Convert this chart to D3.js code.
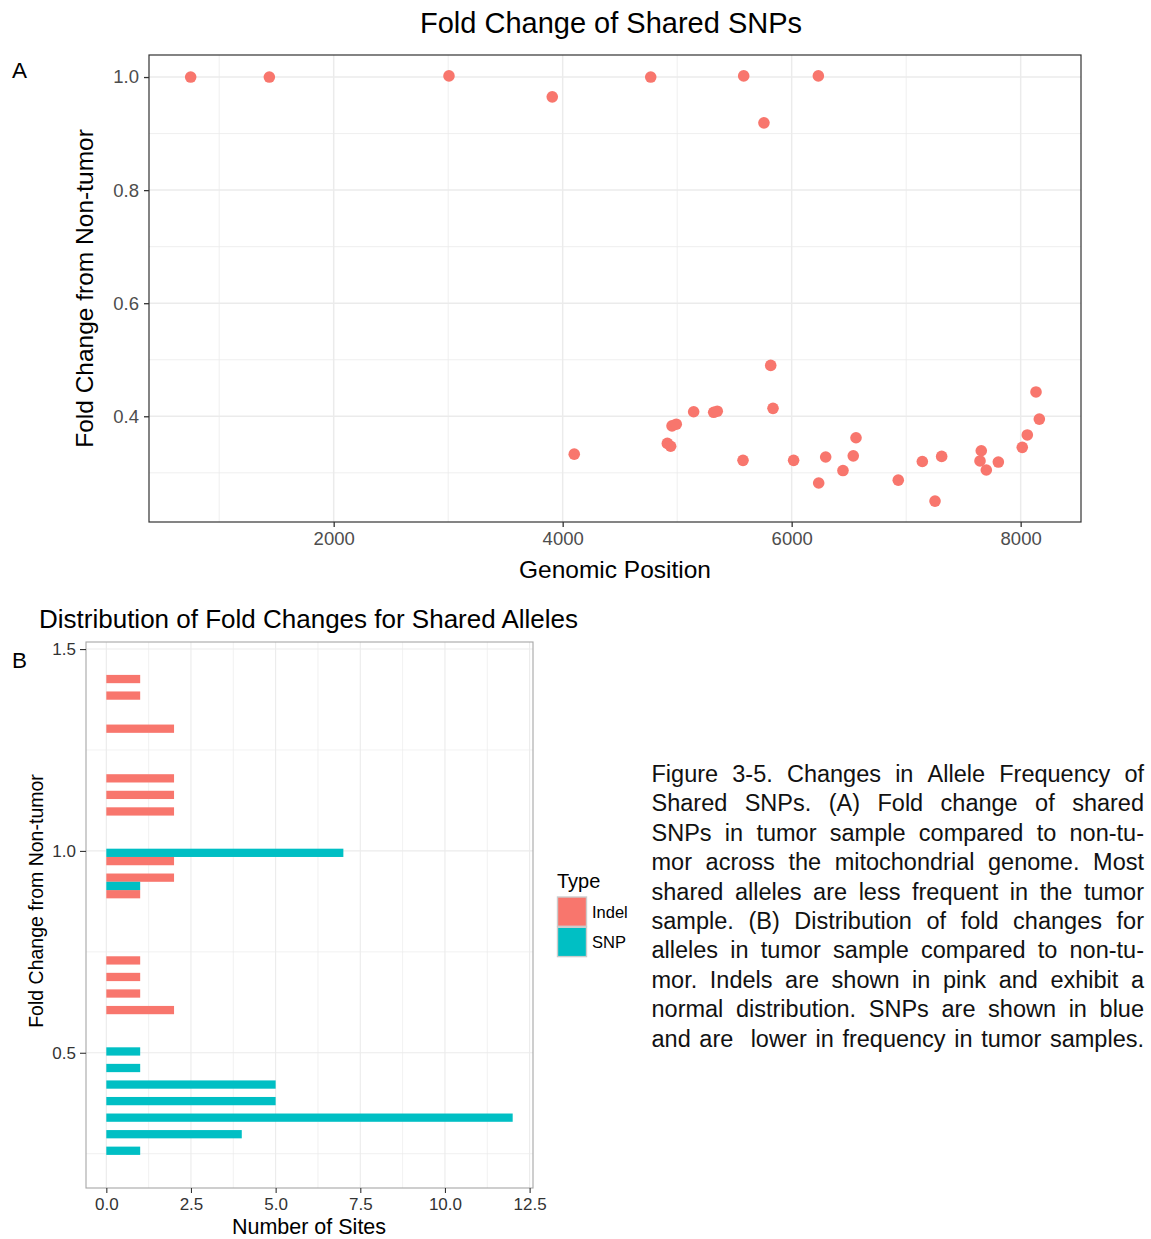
<!DOCTYPE html>
<html><head><meta charset="utf-8">
<script src="https://cdn.jsdelivr.net/npm/d3@7"></script>
<style>
body{margin:0;background:#fff}
text{font-family:"Liberation Sans",Arial,Helvetica,sans-serif}
</style>
</head><body><svg id="c" width="1151" height="1239"></svg>
<script>
// ---------- Panel A data ----------
const positions = [751,1438,3007,3909,4769,5581,6233,5758,
  4101,5817,5837,4914,4943,4955,4992,5144,5319,5350,5575,6017,6236,6297,6448,6538,6562,
  6931,7141,7252,7310,7656,7645,7700,7805,8014,8058,8134,8163];
const foldChanges = [1.000,1.000,1.002,0.965,1.000,1.002,1.002,0.919,
  0.333,0.490,0.414,0.352,0.347,0.383,0.386,0.408,0.407,0.409,0.322,0.322,0.282,0.328,0.304,0.330,0.362,
  0.287,0.320,0.250,0.329,0.339,0.321,0.305,0.319,0.345,0.367,0.443,0.395];
const aXTicks = [2000,4000,6000,8000];
const aXMinor = [1000,3000,5000,7000];
const aYTicks = [0.4,0.6,0.8,1.0];
const aYMinor = [0.3,0.5,0.7,0.9];

// ---------- Panel B data ----------
const binCenters = [1.436,1.395,1.354,1.313,1.272,1.231,1.190,1.149,1.108,1.067,1.026,0.985,0.944,0.903,0.862,
  0.821,0.780,0.739,0.698,0.657,0.616,0.575,0.534,0.493,0.452,0.411,0.370,0.329,0.288,0.247];
const binWidth = 0.041;
const types = ["Indel","SNP"];
const indelCounts = [1,1,0,2,0,0,2,2,2,0,0,2,2,1,0,0,0,1,1,1,2,0,0,0,0,0,0,0,0,0];
const snpCounts   = [0,0,0,0,0,0,0,0,0,0,0,7,0,1,0,0,0,0,0,0,0,0,0,1,1,5,5,12,4,1];
const bXTicks = [0,2.5,5,7.5,10,12.5];
const bXMinor = [1.25,3.75,6.25,8.75,11.25];
const bYTicks = [0.5,1.0,1.5];
const bYMinor = [0.25,0.75,1.25];

const captionLines = [
  "Figure 3-5. Changes in Allele Frequency of",
  "Shared SNPs. (A) Fold change of shared",
  "SNPs in tumor sample compared to non-tu-",
  "mor across the mitochondrial genome. Most",
  "shared alleles are less frequent in the tumor",
  "sample. (B) Distribution of fold changes for",
  "alleles in tumor sample compared to non-tu-",
  "mor. Indels are shown in pink and exhibit a",
  "normal distribution. SNPs are shown in blue",
  "and are  lower in frequency in tumor samples."
];

const colors = {Indel:"#F8766D", SNP:"#00BFC4"};
const svg = d3.select("#c");
svg.append("rect").attr("width",1151).attr("height",1239).attr("fill","#fff");

// ================= Panel A =================
const A = {l:149, r:1081, t:55, b:522};
const ax = d3.scaleLinear().domain([387, 8527]).range([A.l, A.r]);
const ay = d3.scaleLinear().domain([0.213, 1.039]).range([A.b, A.t]);
const gA = svg.append("g");
gA.append("rect").attr("x",A.l).attr("y",A.t).attr("width",A.r-A.l).attr("height",A.b-A.t).attr("fill","#fff");
gA.selectAll(".xmin").data(aXMinor).join("line").attr("x1",d=>ax(d)).attr("x2",d=>ax(d)).attr("y1",A.t).attr("y2",A.b).attr("stroke","#ebebeb").attr("stroke-width",0.8);
gA.selectAll(".ymin").data(aYMinor).join("line").attr("y1",d=>ay(d)).attr("y2",d=>ay(d)).attr("x1",A.l).attr("x2",A.r).attr("stroke","#ebebeb").attr("stroke-width",0.8);
gA.selectAll(".xmaj").data(aXTicks).join("line").attr("x1",d=>ax(d)).attr("x2",d=>ax(d)).attr("y1",A.t).attr("y2",A.b).attr("stroke","#ebebeb").attr("stroke-width",1.5);
gA.selectAll(".ymaj").data(aYTicks).join("line").attr("y1",d=>ay(d)).attr("y2",d=>ay(d)).attr("x1",A.l).attr("x2",A.r).attr("stroke","#ebebeb").attr("stroke-width",1.5);
gA.selectAll("circle").data(positions.map((p,i)=>({x:p,y:foldChanges[i]}))).join("circle")
  .attr("cx",d=>ax(d.x)).attr("cy",d=>ay(d.y)).attr("r",5.8).attr("fill","#F8766D");
gA.append("rect").attr("x",A.l).attr("y",A.t).attr("width",A.r-A.l).attr("height",A.b-A.t).attr("fill","none").attr("stroke","#333").attr("stroke-width",1.2);

const axA = svg.append("g").attr("transform",`translate(0,${A.b})`)
  .call(d3.axisBottom(ax).tickValues(aXTicks).tickFormat(d3.format("d")).tickSize(5).tickPadding(4));
const ayA = svg.append("g").attr("transform",`translate(${A.l},0)`)
  .call(d3.axisLeft(ay).tickValues(aYTicks).tickFormat(d3.format(".1f")).tickSize(5).tickPadding(5));
[axA, ayA].forEach(g=>{
  g.select(".domain").remove();
  g.selectAll(".tick line").attr("stroke","#333").attr("stroke-width",1.3);
  g.selectAll(".tick text").attr("fill","#4d4d4d").style("font-size","18.5px");
});
axA.selectAll(".tick text").attr("dy","0.75em");

svg.append("text").attr("x",611).attr("y",33).attr("text-anchor","middle").style("font-size","29px").attr("fill","#000").text("Fold Change of Shared SNPs");
svg.append("text").attr("x",615).attr("y",578).attr("text-anchor","middle").style("font-size","24.5px").text("Genomic Position");
svg.append("text").attr("transform",`translate(93,${(A.t+A.b)/2}) rotate(-90)`).attr("text-anchor","middle").style("font-size","24.5px").text("Fold Change from Non-tumor");
svg.append("text").attr("x",12).attr("y",78).style("font-size","22.5px").text("A");

// ================= Panel B =================
const B = {l:86, r:533, t:642, b:1188};
const bx = d3.scaleLinear().domain([-0.6, 12.6]).range([B.l, B.r]);
const by = d3.scaleLinear().domain([0.165, 1.5175]).range([B.b, B.t]);
const gB = svg.append("g");
gB.selectAll(".xmin").data(bXMinor).join("line").attr("x1",d=>bx(d)).attr("x2",d=>bx(d)).attr("y1",B.t).attr("y2",B.b).attr("stroke","#ebebeb").attr("stroke-width",0.7);
gB.selectAll(".ymin").data(bYMinor).join("line").attr("y1",d=>by(d)).attr("y2",d=>by(d)).attr("x1",B.l).attr("x2",B.r).attr("stroke","#ebebeb").attr("stroke-width",0.7);
gB.selectAll(".xmaj").data(bXTicks).join("line").attr("x1",d=>bx(d)).attr("x2",d=>bx(d)).attr("y1",B.t).attr("y2",B.b).attr("stroke","#ebebeb").attr("stroke-width",1.1);
gB.selectAll(".ymaj").data(bYTicks).join("line").attr("y1",d=>by(d)).attr("y2",d=>by(d)).attr("x1",B.l).attr("x2",B.r).attr("stroke","#ebebeb").attr("stroke-width",1.1);

const barData = [];
binCenters.forEach((c,i)=>{
  if (indelCounts[i] > 0) barData.push({type:"Indel", lo:c-binWidth/2, hi:c, n:indelCounts[i]});
  if (snpCounts[i] > 0) barData.push({type:"SNP", lo:c, hi:c+binWidth/2, n:snpCounts[i]});
});
gB.selectAll("rect.bar").data(barData).join("rect").attr("class","bar")
  .attr("x",bx(0)).attr("width",d=>bx(d.n)-bx(0))
  .attr("y",d=>by(d.hi)).attr("height",d=>by(d.lo)-by(d.hi))
  .attr("fill",d=>colors[d.type]);
gB.append("rect").attr("x",B.l).attr("y",B.t).attr("width",B.r-B.l).attr("height",B.b-B.t).attr("fill","none").attr("stroke","#a6a6a6").attr("stroke-width",1.1);

const bxA = svg.append("g").attr("transform",`translate(0,${B.b})`)
  .call(d3.axisBottom(bx).tickValues(bXTicks).tickFormat(d3.format(".1f")).tickSize(5).tickPadding(4));
const byA = svg.append("g").attr("transform",`translate(${B.l},0)`)
  .call(d3.axisLeft(by).tickValues(bYTicks).tickFormat(d3.format(".1f")).tickSize(6).tickPadding(4));
[bxA, byA].forEach(g=>{
  g.select(".domain").remove();
  g.selectAll(".tick line").attr("stroke","#333").attr("stroke-width",1.1);
  g.selectAll(".tick text").attr("fill","#333").style("font-size","17px");
});
bxA.selectAll(".tick text").attr("dy","0.75em");

svg.append("text").attr("x",309).attr("y",1234).attr("text-anchor","middle").style("font-size","21.5px").text("Number of Sites");
svg.append("text").attr("x",39).attr("y",628).style("font-size","26px").text("Distribution of Fold Changes for Shared Alleles");
svg.append("text").attr("transform",`translate(43,${(B.t+B.b)/2 - 14}) rotate(-90)`).attr("text-anchor","middle").style("font-size","19.5px").text("Fold Change from Non-tumor");
svg.append("text").attr("x",12).attr("y",668).style("font-size","22.5px").text("B");

// Legend
const lg = svg.append("g");
lg.append("text").attr("x",557).attr("y",888).style("font-size","20px").text("Type");
types.forEach((t,i)=>{
  lg.append("rect").attr("x",557.5).attr("y",897+i*30.3).attr("width",29).attr("height",29.3)
    .attr("fill",colors[t]).attr("stroke","#cccccc").attr("stroke-width",1.4);
  lg.append("text").attr("x",592).attr("y",918+i*30).style("font-size","16.5px").text(t);
});

// Caption (justified)
const capG = svg.append("g");
const capL = 651.5, capR = 1144, capTop = 781.7, capLH = 29.45;
captionLines.forEach((line,li)=>{
  const words = line.split(" ");
  const y = capTop + li*capLH;
  const nodes = words.map(w=>capG.append("text").attr("y",y).style("font-size","23.5px").attr("fill","#111").text(w));
  const widths = nodes.map(n=>n.node().getComputedTextLength());
  const total = d3.sum(widths);
  const gap = (capR - capL - total)/(words.length-1);
  let x = capL;
  nodes.forEach((n,i)=>{ n.attr("x",x); x += widths[i] + gap; });
});
</script>
</body></html>
